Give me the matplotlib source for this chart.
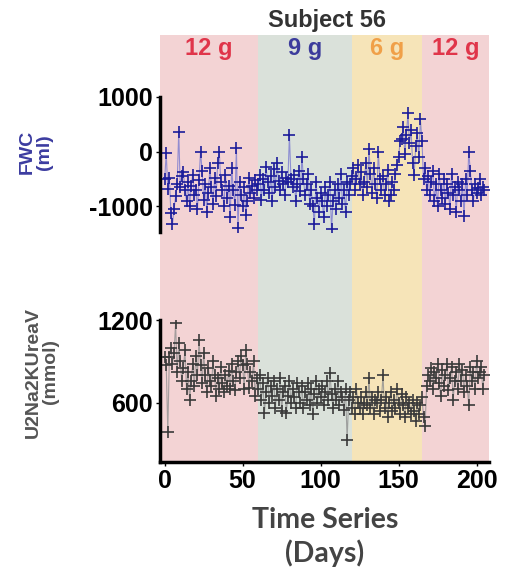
import matplotlib.pyplot as plt
import numpy as np

plt.rcParams['axes.unicode_minus'] = False

# free water clearance (ml), one value per day
fwc = [-500, -30, -690, -485, -1120, -1330, -1050, -820, -600, 360,
       -650, -450, -380, -700, -900, -550, -1000, -620, -420, -800,
       -700, -1050, -520, 0, -350, -880, -600, -1100, -750, -300,
       -640, -950, -480, -820, -200, 0, -560, -700, -1000, -420,
       -850, -620, -1200, -300, -700, -980, 60, -1390, -560, -800,
       -1000, -650, -1150, -900, -480, -760, -620, -850, -520, -700,
       -600, -420, -880, -500, -700, -280, -560, -760, -450, -900,
       -320, -650, -200, -540, -700, -380, -600, -800, -480, -560,
       300, -500, -650, -420, -900, -600, -350, -720, -90, -500,
       -800, -600, -400, -950, -700, -1000, -1330, -550, -850, -1100,
       -750, -900, -1200, -650, -1000, -800, -560, -1420, -900, -700,
       -1050, -600, -850, -400, -950, -700, -1100, -550, -800, -600,
       -450, -300, -700, -500, -250, -600, -380, -800, -550, -200,
       -650, 40, -400, -750, -300, -600, -850, 0, -500, -700,
       -450, -800, -600, -330, -900, -790, -550, -700, -400, -250,
       -100, 200, 240, 450, -50, 300, 700, 150, 400, -200,
       -420, 100, 350, -100, 600, 200, -500, -300, -700, -450,
       -800, -550, -350, -900, -600, -1000, -400, -700, -850, -500,
       -950, -600, -750, -1050, -400, -800, -650, -1100, -550, -700,
       -900, -600, -1180, -500, -800, 0, -350, -700, -900, -600,
       -750, -670, -500, -800, -650, -700]

# U2Na2KUreaV (mmol), one value per day
osm = [930, 870, 390, 935, 1000, 880, 960, 1176, 820, 1030,
       900, 760, 850, 980, 700, 820, 620, 760, 880, 720,
       940, 800, 1055, 870, 740, 960, 800, 680, 850, 760,
       720, 900, 800, 650, 780, 700, 860, 740, 680, 800,
       720, 830, 700, 880, 760, 690, 820, 900, 780, 940,
       870, 700, 983, 880, 710, 820, 760, 900, 650, 780,
       700, 800, 620, 740, 528, 680, 780, 600, 720, 650,
       760, 560, 700, 620, 780, 540, 680, 720, 528, 650,
       760, 600, 700, 640, 560, 740, 680, 600, 720, 560,
       680, 620, 740, 580, 700, 520, 660, 760, 600, 700,
       640, 720, 580, 680, 760, 620, 817, 660, 560, 700,
       620, 760, 580, 680, 640, 550, 700, 333, 620, 680,
       560, 640, 520, 700, 600, 560, 640, 520, 600, 680,
       580, 780, 560, 640, 520, 620, 600, 680, 540, 620,
       800, 560, 640, 500, 600, 680, 540, 620, 560, 700,
       600, 520, 660, 580, 500, 640, 560, 600, 520, 620,
       540, 465, 600, 520, 580, 640, 500, 430, 720, 800,
       760, 853, 700, 820, 780, 880, 740, 650, 840, 720,
       800, 880, 690, 780, 860, 620, 760, 820, 700, 880,
       760, 840, 680, 800, 720, 585, 860, 760, 820, 700,
       900, 780, 820, 860, 700, 800]

days = np.arange(len(fwc))

# salt phases
phase_start = [-3, 60, 120, 165]
phase_end = [60, 120, 165, 208]
phase_label = ['12 g', '9 g', '6 g', '12 g']
phase_bg = ['#f3d3d4', '#dae1da', '#f6e4b8', '#f3d3d4']
phase_fg = ['#e0354a', '#3c3c9c', '#f0a048', '#e0354a']

W, H = 508, 573
fig = plt.figure(figsize=(W / 100, H / 100), dpi=100)

def fx(px):
    return px / W

def fy(px):
    return 1 - px / H

xlim = (-3, 208)
left, right = 160, 489

# background bands
bg = fig.add_axes([fx(left), fy(462), fx(right - left), fy(35) - fy(462)])
bg.set_xlim(xlim)
for s, e, c in zip(phase_start, phase_end, phase_bg):
    bg.axvspan(s, e, color=c, lw=0)
bg.axis('off')

for s, e, lab, c in zip(phase_start, phase_end, phase_label, phase_fg):
    fig.text(fx(left) + fx(right - left) * ((s + e) / 2 - xlim[0]) / (xlim[1] - xlim[0]),
             fy(49), lab, color=c, fontsize=17, fontweight='bold',
             ha='center', va='center', family='Liberation Sans')

fig.text(fx(327), fy(21), 'Subject 56', fontsize=17, fontweight='bold',
         ha='center', va='center', color='#333333', family='Liberation Sans')

tick_font = dict(family='Liberation Sans', weight='bold', size=18)

# top panel: FWC
ax1 = fig.add_axes([fx(left), fy(232), fx(right - left), fy(97) - fy(232)])
ax1.patch.set_alpha(0)
ax1.plot(days, fwc, '-', color='#7a7ad0', lw=0.8, alpha=0.8)
ax1.plot(days, fwc, '+', color='#1c1c9a', ms=9, mew=1.2)
ax1.set_xlim(xlim)
ax1.set_ylim(-1470, 1000)
ax1.set_yticks([1000, 0, -1000])
ax1.set_xticks([])
for sp in ['top', 'right', 'bottom']:
    ax1.spines[sp].set_visible(False)
ax1.spines['left'].set_linewidth(2.5)
ax1.tick_params(axis='y', length=3, width=1, pad=2)
for t in ax1.get_yticklabels():
    t.set_fontproperties(tick_font)
fig.text(fx(36), fy(152), 'FWC\n(ml)', rotation=90, ha='center', va='center',
         fontsize=14, fontweight='bold', color='#3c3ca0', family='Liberation Sans',
         linespacing=1.0)

# bottom panel: U2Na2KUreaV
ax2 = fig.add_axes([fx(left), fy(462), fx(right - left), fy(320) - fy(462)])
ax2.patch.set_alpha(0)
ax2.plot(days, osm, '-', color='#909090', lw=0.8, alpha=0.8)
ax2.plot(days, osm, '+', color='#3a3a3a', ms=9, mew=1.2)
ax2.set_xlim(xlim)
ax2.set_ylim(170, 1200)
ax2.set_yticks([1200, 600])
ax2.set_xticks([0, 50, 100, 150, 200])
for sp in ['top', 'right']:
    ax2.spines[sp].set_visible(False)
ax2.spines['left'].set_linewidth(2.5)
ax2.spines['bottom'].set_linewidth(2.5)
ax2.tick_params(axis='both', length=3, width=1, pad=2)
for t in ax2.get_yticklabels() + ax2.get_xticklabels():
    t.set_fontproperties(tick_font)
fig.text(fx(42), fy(372), 'U2Na2KUreaV\n(mmol)', rotation=90, ha='center', va='center',
         fontsize=14, fontweight='bold', color='#555555', family='Liberation Sans',
         linespacing=1.0)

fig.text(fx(325), fy(537), 'Time Series\n(Days)', ha='center', va='center',
         fontsize=20.5, fontweight='bold', color='#444444', family='Lato',
         linespacing=1.3)

fig.savefig('out.png', dpi=100)
